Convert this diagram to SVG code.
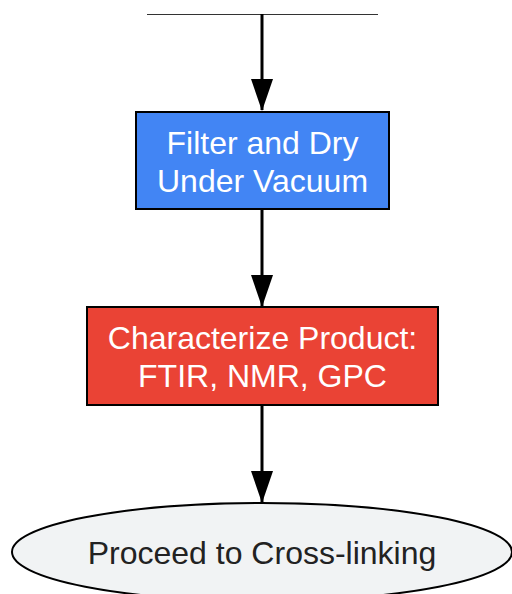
<svg xmlns="http://www.w3.org/2000/svg" width="512" height="594" viewBox="0 0 512 594">
<style>
.t{font-family:"Liberation Sans",Arial,sans-serif;font-size:32px;text-anchor:middle}
.w{fill:#ffffff}
.d{fill:#222222}
.e{stroke:#000;stroke-width:3;fill:none}
</style>
<defs>
<marker id="a" markerUnits="userSpaceOnUse" markerWidth="32" markerHeight="22" refX="31" refY="11" orient="auto" viewBox="0 0 32 22">
<path d="M0,0 L32,11 L0,22 z" fill="#000"/>
</marker>
</defs>
<g id="connectors">
<line x1="147" y1="14.5" x2="378" y2="14.5" stroke="#333" stroke-width="1"/>
<line class="e" x1="262" y1="14" x2="262" y2="110" marker-end="url(#a)"/>
<line class="e" x1="262" y1="209" x2="262" y2="306" marker-end="url(#a)"/>
<line class="e" x1="262" y1="405" x2="262" y2="502" marker-end="url(#a)"/>
</g>
<g id="filter">
<rect x="136" y="112" width="253" height="97" fill="#4285F4" stroke="#000" stroke-width="2"/>
<text class="t w" x="262.5" y="154">Filter and Dry</text>
<text class="t w" x="262.5" y="192">Under Vacuum</text>
</g>
<g id="characterize">
<rect x="87" y="307" width="351" height="98" fill="#EA4335" stroke="#000" stroke-width="2"/>
<text class="t w" x="262.5" y="349">Characterize Product:</text>
<text class="t w" x="262.5" y="387">FTIR, NMR, GPC</text>
</g>
<g id="proceed">
<ellipse cx="262" cy="552" rx="250" ry="49" fill="#F1F3F4" stroke="#000" stroke-width="2"/>
<text class="t d" x="262" y="564">Proceed to Cross-linking</text>
</g>
</svg>
